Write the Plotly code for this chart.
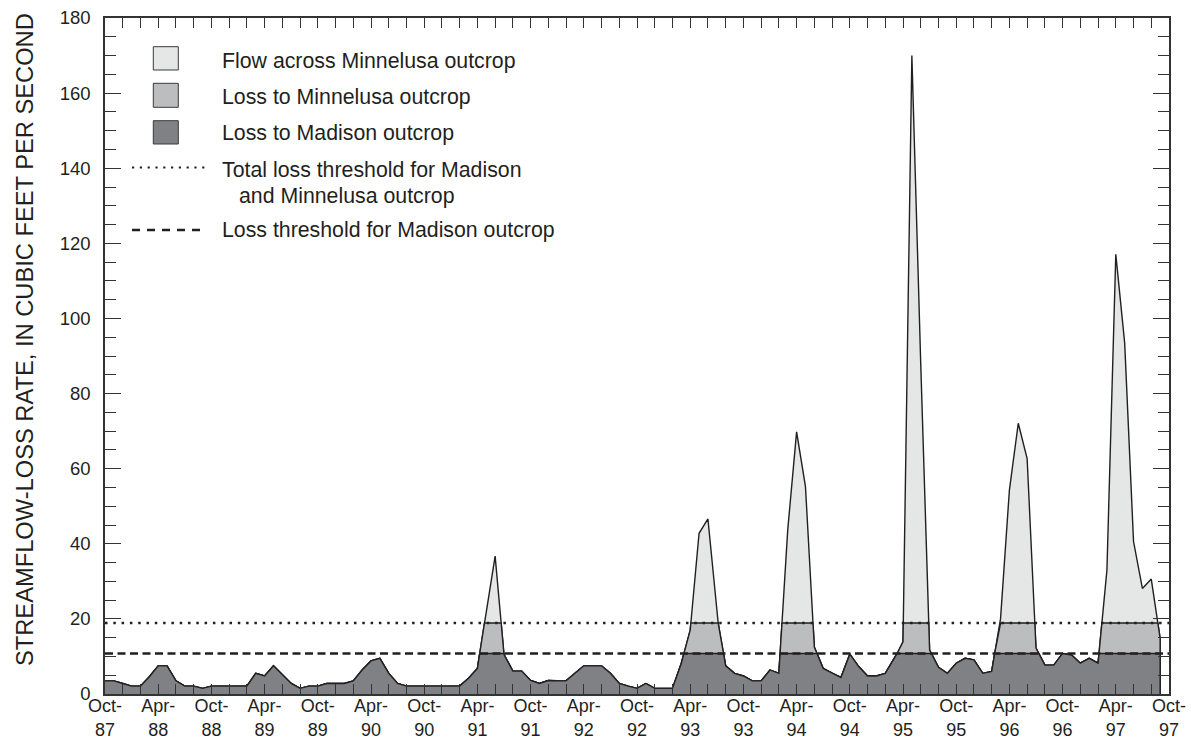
import numpy as np
import plotly.graph_objects as go

# Monthly streamflow-loss rate, Oct-87 (month 0) through Sep-97 (month 119), cfs
months = list(range(120))
total_flow = [
    3.5, 3.5, 2.8, 2.1, 2.1, 4.6, 7.5, 7.5, 3.5, 2.1, 2.1, 1.5,        # WY1988
    2.1, 2.1, 2.1, 2.1, 2.1, 5.5, 4.8, 7.5, 5.1, 2.8, 1.5, 2.1,        # WY1989
    2.1, 2.8, 2.8, 2.8, 3.5, 6.4, 8.8, 9.5, 5.5, 2.8, 2.1, 2.1,        # WY1990
    2.1, 2.1, 2.1, 2.1, 2.1, 4.2, 6.8, 22.0, 36.7, 10.5, 6.1, 6.1,     # WY1991
    3.6, 2.8, 3.6, 3.5, 3.5, 5.5, 7.5, 7.5, 7.5, 5.5, 2.8, 2.1,        # WY1992
    1.5, 2.8, 1.5, 1.5, 1.5, 8.2, 17.0, 42.8, 46.6, 21.0, 7.5, 5.5,    # WY1993
    4.8, 3.5, 3.5, 6.4, 5.5, 43.7, 69.8, 55.2, 12.5, 6.8, 5.5, 4.4,    # WY1994
    10.6, 7.3, 4.8, 4.8, 5.5, 9.2, 13.9, 170.0, 88.0, 11.7, 7.1, 5.5,  # WY1995
    8.2, 9.5, 9.1, 5.5, 6.0, 20.0, 54.3, 72.1, 62.7, 12.2, 7.7, 7.7,   # WY1996
    10.8, 10.4, 8.2, 9.5, 8.2, 33.0, 117.1, 93.5, 40.6, 28.1, 30.6, 14.8,  # WY1997
]

# Loss thresholds, cfs
madison_threshold = 10.8
total_threshold = 18.9

# Axis labels
x_tick_months = list(range(0, 121, 6))
x_tick_text = ["Oct-<br>87", "Apr-<br>88", "Oct-<br>88", "Apr-<br>89", "Oct-<br>89",
               "Apr-<br>90", "Oct-<br>90", "Apr-<br>91", "Oct-<br>91", "Apr-<br>92",
               "Oct-<br>92", "Apr-<br>93", "Oct-<br>93", "Apr-<br>94", "Oct-<br>94",
               "Apr-<br>95", "Oct-<br>95", "Apr-<br>96", "Oct-<br>96", "Apr-<br>97",
               "Oct-<br>97"]
y_tick_vals = list(range(0, 181, 20))

legend_labels = ["Flow across Minnelusa outcrop", "Loss to Minnelusa outcrop",
                 "Loss to Madison outcrop"]

LIGHT = "#e5e6e6"
MID = "#bcbdbf"
DARK = "#808184"
INK = "#231f20"
FONT = "Liberation Sans, Arial, Helvetica, sans-serif"


def add_crossings(x, y, levels):
    """Insert the points where the piecewise-linear series crosses each level."""
    xs, ys = [x[0]], [y[0]]
    for i in range(1, len(x)):
        x0, y0, x1, y1 = x[i - 1], y[i - 1], x[i], y[i]
        cuts = []
        for lev in levels:
            if (y0 - lev) * (y1 - lev) < 0:
                cuts.append((x0 + (lev - y0) / (y1 - y0) * (x1 - x0), lev))
        for cx, cy in sorted(cuts):
            xs.append(cx)
            ys.append(cy)
        xs.append(x1)
        ys.append(y1)
    return np.array(xs, dtype=float), np.array(ys, dtype=float)


fx, fy = add_crossings(months, total_flow, [madison_threshold, total_threshold])
# close the area down to zero at the last month
fx = np.append(fx, fx[-1])
fy = np.append(fy, 0.0)

layers = [
    (fy, LIGHT),
    (np.minimum(fy, total_threshold), MID),
    (np.minimum(fy, madison_threshold), DARK),
]

fig = go.Figure()
for yy, col in layers:
    fig.add_trace(go.Scatter(
        x=fx, y=yy, mode="lines", fill="tozeroy", fillcolor=col,
        line=dict(color=INK, width=1.4), hoverinfo="skip", showlegend=False,
    ))

# threshold lines
fig.add_trace(go.Scatter(
    x=[0, 120], y=[total_threshold, total_threshold], mode="lines",
    line=dict(color=INK, width=2.4, dash="2.5px,5.8px"), showlegend=False,
))
fig.add_trace(go.Scatter(
    x=[0, 120], y=[madison_threshold, madison_threshold], mode="lines",
    line=dict(color=INK, width=2.4, dash="8px,4.5px"), showlegend=False,
))

# plot-area geometry in page pixels
L, R, T, B = 105, 1169, 18, 694


def px(xp):
    return (xp - L) / (R - L)


def py(yp):
    return (B - yp) / (B - T)


shapes = []
annotations = []

# legend swatches
swatch_rows = [(46.7, 70.0, LIGHT), (83.3, 107.3, MID), (120.7, 144.0, DARK)]
for (y0, y1, col) in swatch_rows:
    shapes.append(dict(type="rect", xref="paper", yref="paper",
                       x0=px(153.3), x1=px(178.3), y0=py(y1), y1=py(y0),
                       fillcolor=col, line=dict(color="#3a3a3a", width=1)))

# legend line samples
shapes.append(dict(type="line", xref="paper", yref="paper",
                   x0=px(132), x1=px(207), y0=py(167.5), y1=py(167.5),
                   line=dict(color=INK, width=2.2, dash="2.2px,5.6px")))
shapes.append(dict(type="line", xref="paper", yref="paper",
                   x0=px(132), x1=px(207), y0=py(230), y1=py(230),
                   line=dict(color=INK, width=2.4, dash="8px,7px")))

legend_text_rows = [
    (219.5, 60.5, legend_labels[0]),
    (219.5, 97.0, legend_labels[1]),
    (219.5, 133.5, legend_labels[2]),
    (219.5, 170.0, "Total loss threshold for Madison"),
    (236.5, 196.0, "and Minnelusa outcrop"),
    (219.5, 229.5, "Loss threshold for Madison outcrop"),
]
for (xp, yp, txt) in legend_text_rows:
    annotations.append(dict(xref="paper", yref="paper", x=px(xp), y=py(yp),
                            xanchor="left", yanchor="middle", text=txt,
                            showarrow=False,
                            font=dict(family=FONT, size=21.3, color=INK)))

# y-axis title
annotations.append(dict(xref="paper", yref="paper", x=px(25), y=py(340),
                        xanchor="center", yanchor="middle", textangle=-90,
                        text="STREAMFLOW-LOSS RATE, IN CUBIC FEET PER SECOND",
                        showarrow=False,
                        font=dict(family=FONT, size=23.7, color=INK)))

fig.update_layout(
    width=1191, height=749,
    margin=dict(l=L, r=1191 - R, t=T, b=749 - B),
    paper_bgcolor="white", plot_bgcolor="white",
    shapes=shapes, annotations=annotations,
    font=dict(family=FONT, color=INK),
)

fig.update_xaxes(
    range=[0, 120], tickvals=x_tick_months, ticktext=x_tick_text,
    ticks="inside", ticklen=10, tickwidth=1.2, tickcolor="#333333",
    minor=dict(dtick=2, tick0=0, ticks="inside", ticklen=10, tickwidth=1.2,
               tickcolor="#333333", showgrid=False),
    showline=True, linecolor="#333333", linewidth=1.5, mirror="ticks",
    showgrid=False, zeroline=False, ticklabelstandoff=-5, automargin=False,
    tickfont=dict(family=FONT, size=18, color=INK),
)
fig.update_yaxes(
    range=[0, 180], tickvals=y_tick_vals,
    ticks="inside", ticklen=16, tickwidth=1.4, tickcolor="#333333",
    minor=dict(dtick=5, tick0=0, ticks="inside", ticklen=11, tickwidth=1.2,
               tickcolor="#333333", showgrid=False),
    showline=True, linecolor="#333333", linewidth=1.5, mirror="ticks",
    showgrid=False, zeroline=False, ticklabelstandoff=9, automargin=False,
    tickfont=dict(family=FONT, size=18.5, color=INK),
)

fig.write_html("out.html")
